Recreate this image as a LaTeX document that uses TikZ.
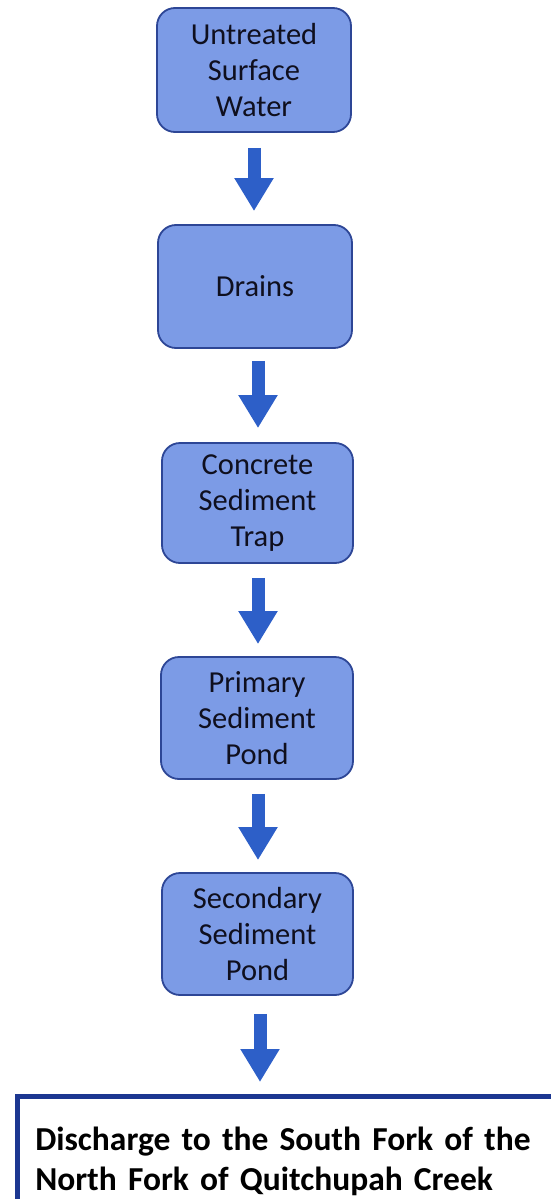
\documentclass[tikz,border=0pt]{standalone}
\usepackage{fontspec}
\setmainfont{Carlito}
\usetikzlibrary{arrows.meta,calc}
\definecolor{boxfill}{RGB}{124,155,230}
\definecolor{boxline}{RGB}{45,70,150}
\definecolor{arrowblue}{RGB}{45,95,200}
\definecolor{disline}{RGB}{28,55,145}
\definecolor{txt}{RGB}{15,15,30}
\tikzset{
  stepbox/.style={draw=boxline, line width=1.8pt, fill=boxfill, rounded corners=18pt,
    align=center, text=txt, inner sep=0pt,
    font=\fontsize{30.5}{36}\selectfont},
  flow/.style={draw=arrowblue, line width=13pt,
    -{Triangle[width=37pt,length=33pt]}, arrowblue},
  disbox/.style={draw=disline, line width=4.5pt, fill=white, anchor=north west,
    align=left, text width=520pt, inner xsep=18pt, inner ysep=12pt,
    font=\bfseries\fontsize{33.5}{40}\selectfont, text=black}
}
\begin{document}
\begin{tikzpicture}[x=1pt,y=-1pt]
\useasboundingbox (0,0) rectangle (550,1199);
\node[stepbox, minimum width=194pt, minimum height=124pt] (b1) at (254,70) {Untreated\\Surface\\Water};
\node[stepbox, minimum width=194pt, minimum height=123pt] (b2) at (255,286.5) {Drains};
\node[stepbox, minimum width=191pt, minimum height=120pt] (b3) at (257.5,503) {Concrete\\Sediment\\Trap};
\node[stepbox, minimum width=192pt, minimum height=122pt] (b4) at (257,718) {Primary\\Sediment\\Pond};
\node[stepbox, minimum width=191pt, minimum height=122pt] (b5) at (257.5,934) {Secondary\\Sediment\\Pond};
\node[disbox, minimum height=130pt] (dis) at (15,1094) {Discharge to the South Fork of the\\North Fork of Quitchupah Creek};
\draw[flow, shorten <=15pt, shorten >=13pt] (b1.south) -- (b1.south |- b2.north);
\draw[flow, shorten <=12pt, shorten >=14pt] ([xshift=3pt]b2.south) -- ([xshift=3pt]b2.south |- b3.north);
\draw[flow, shorten <=14pt, shorten >=12pt] ([xshift=0.5pt]b3.south) -- ([xshift=0.5pt]b3.south |- b4.north);
\draw[flow, shorten <=14pt, shorten >=12pt] ([xshift=1pt]b4.south) -- ([xshift=1pt]b4.south |- b5.north);
\draw[flow, shorten <=18pt, shorten >=12pt] ([xshift=2.5pt]b5.south) -- ([xshift=2.5pt]b5.south |- dis.north);
\end{tikzpicture}
\end{document}
